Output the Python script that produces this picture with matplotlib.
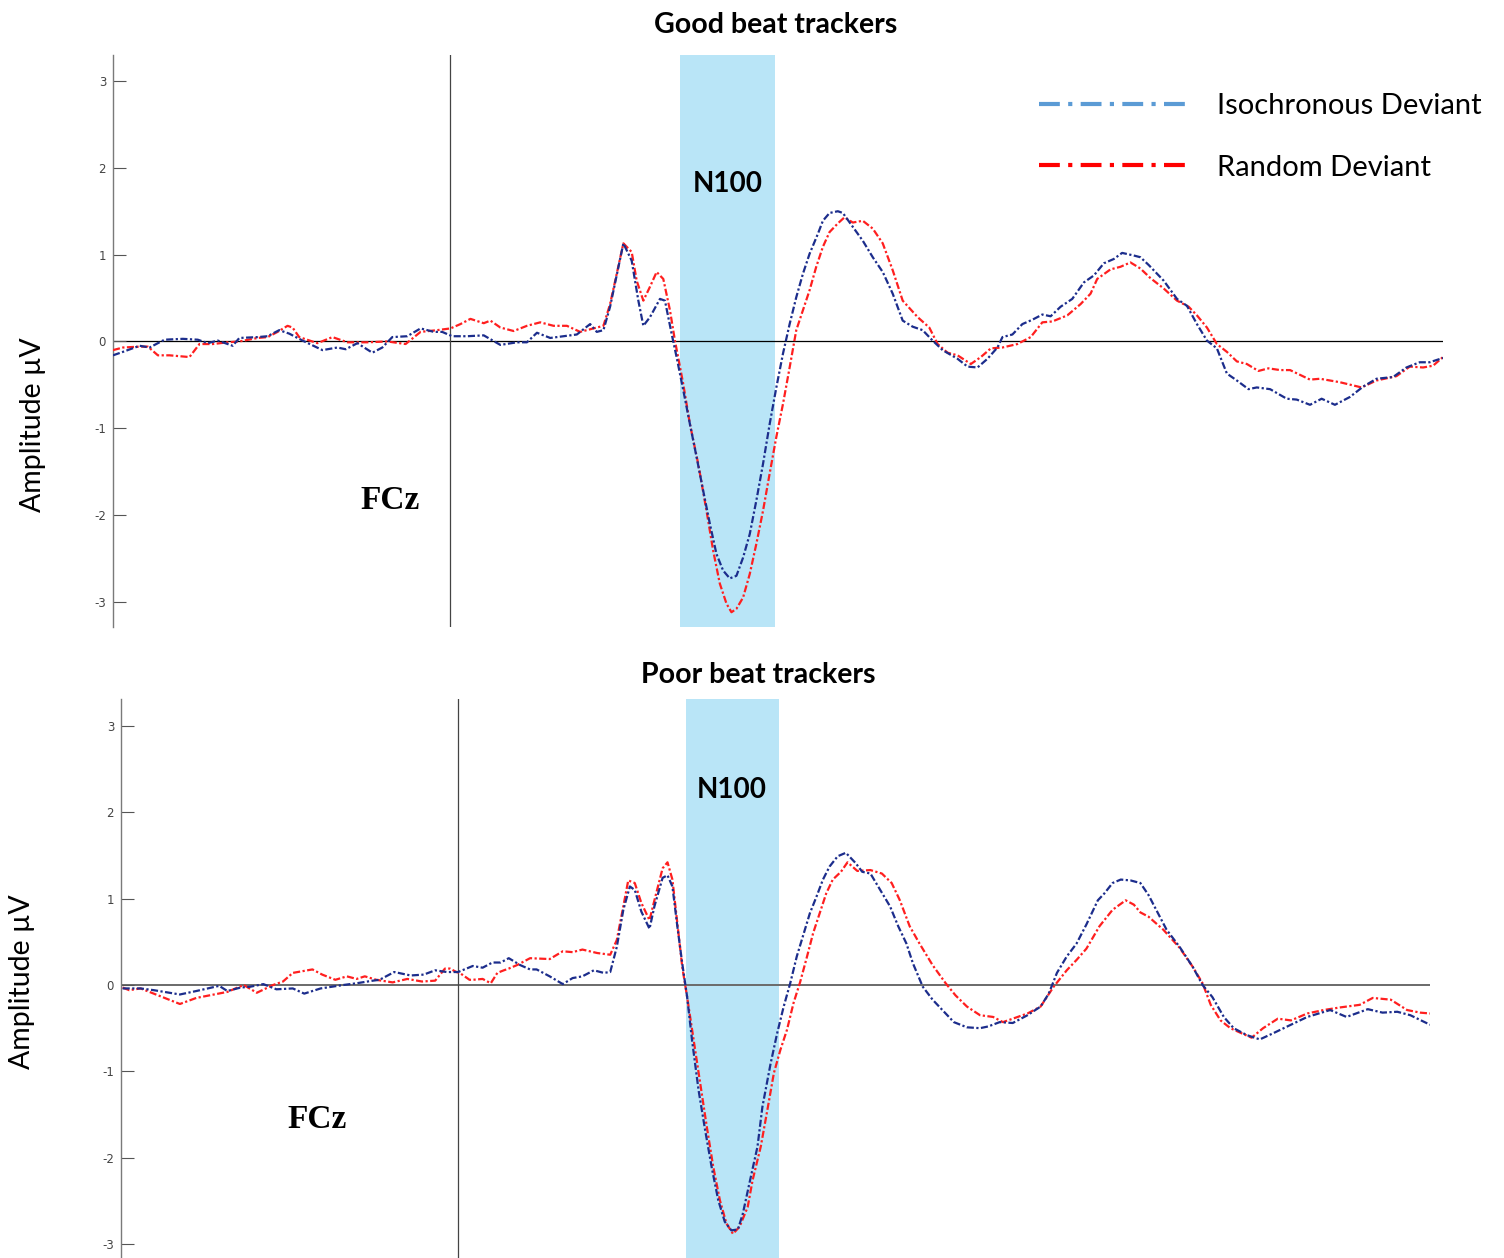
import matplotlib
matplotlib.use("Agg")
import matplotlib.pyplot as plt
from matplotlib.lines import Line2D
import numpy as np

# ERP at FCz, time in ms relative to deviant onset, amplitude in microvolts
good_iso = [(-203, -0.16), (-197, -0.12), (-187, -0.05), (-181, -0.07), (-172, 0.02), (-161, 0.03),
            (-152, 0.02), (-146, -0.02), (-140, 0.01), (-131, -0.05), (-127, 0.04), (-116, 0.05),
            (-110, 0.06), (-103, 0.13), (-97, 0.09), (-89, 0.01), (-77, -0.10), (-68, -0.07),
            (-63, -0.09), (-56, -0.02), (-47, -0.13), (-41, -0.07), (-35, 0.05), (-26, 0.06),
            (-18, 0.15), (-10, 0.11), (-5, 0.11), (1, 0.06), (10, 0.06), (20, 0.07), (30, -0.04),
            (40, -0.01), (46, -0.01), (52, 0.10), (60, 0.04), (68, 0.06), (76, 0.08), (84, 0.20),
            (88, 0.11), (92, 0.13), (96, 0.40), (104, 1.13), (109, 0.93), (113, 0.47), (116, 0.18),
            (120, 0.28), (126, 0.49), (129, 0.47), (133, 0.09), (136, -0.18), (140, -0.56),
            (144, -0.95), (148, -1.33), (152, -1.72), (156, -2.10), (160, -2.45), (164, -2.64),
            (168, -2.73), (172, -2.70), (176, -2.49), (180, -2.22), (184, -1.83), (188, -1.41),
            (192, -0.95), (196, -0.53), (200, -0.14), (204, 0.20), (208, 0.51), (212, 0.78),
            (216, 1.01), (221, 1.24), (224, 1.39), (228, 1.48), (233, 1.50), (236, 1.48),
            (242, 1.32), (248, 1.16), (254, 0.97), (260, 0.80), (266, 0.55), (272, 0.24),
            (278, 0.17), (284, 0.13), (290, 0.01), (296, -0.10), (305, -0.20), (311, -0.29),
            (317, -0.30), (323, -0.20), (329, -0.07), (332, 0.05), (338, 0.08), (344, 0.20),
            (350, 0.25), (356, 0.31), (361, 0.29), (367, 0.40), (374, 0.49), (381, 0.68),
            (387, 0.76), (393, 0.90), (399, 0.95), (404, 1.02), (411, 0.99), (415, 0.97),
            (420, 0.88), (429, 0.70), (437, 0.49), (443, 0.41), (449, 0.20), (455, 0.01),
            (461, -0.08), (467, -0.37), (473, -0.45), (480, -0.55), (485, -0.53), (493, -0.55),
            (503, -0.66), (509, -0.67), (517, -0.73), (524, -0.66), (532, -0.73), (541, -0.64),
            (549, -0.52), (557, -0.43), (567, -0.41), (575, -0.30), (583, -0.24), (589, -0.24),
            (597, -0.19)]

good_rnd = [(-203, -0.10), (-197, -0.07), (-187, -0.06), (-182, -0.06), (-176, -0.16), (-169, -0.16),
            (-157, -0.18), (-151, -0.03), (-143, -0.03), (-134, -0.01), (-127, 0.00), (-116, 0.04),
            (-110, 0.05), (-104, 0.11), (-98, 0.18), (-95, 0.16), (-91, 0.05), (-80, -0.02),
            (-71, 0.05), (-62, -0.01), (-50, -0.01), (-38, 0.00), (-27, -0.03), (-18, 0.11),
            (-8, 0.13), (0, 0.15), (6, 0.20), (12, 0.26), (20, 0.21), (24, 0.24), (30, 0.16),
            (38, 0.12), (46, 0.18), (54, 0.22), (62, 0.18), (70, 0.18), (78, 0.11), (86, 0.15),
            (92, 0.18), (96, 0.43), (100, 0.78), (104, 1.13), (109, 1.03), (112, 0.70), (116, 0.47),
            (120, 0.63), (124, 0.80), (128, 0.72), (132, 0.36), (135, 0.01), (140, -0.49),
            (144, -0.95), (149, -1.41), (154, -1.95), (158, -2.41), (162, -2.79), (166, -3.02),
            (169, -3.12), (172, -3.08), (176, -2.95), (180, -2.68), (184, -2.33), (188, -1.95),
            (192, -1.52), (196, -1.10), (200, -0.72), (204, -0.30), (208, 0.13), (212, 0.36),
            (216, 0.59), (220, 0.86), (224, 1.09), (228, 1.26), (233, 1.36), (237, 1.43),
            (242, 1.37), (248, 1.39), (254, 1.30), (260, 1.13), (266, 0.82), (272, 0.47),
            (281, 0.28), (288, 0.16), (293, -0.03), (299, -0.13), (305, -0.16), (313, -0.26),
            (319, -0.18), (325, -0.08), (332, -0.07), (341, -0.03), (349, 0.05), (356, 0.22),
            (362, 0.23), (371, 0.30), (379, 0.43), (385, 0.55), (389, 0.72), (397, 0.83),
            (403, 0.86), (409, 0.91), (415, 0.84), (421, 0.73), (429, 0.61), (437, 0.47),
            (444, 0.40), (449, 0.30), (455, 0.16), (461, -0.03), (467, -0.12), (473, -0.23),
            (479, -0.26), (486, -0.34), (492, -0.31), (499, -0.33), (505, -0.33), (517, -0.44),
            (523, -0.43), (535, -0.47), (548, -0.53), (557, -0.45), (569, -0.40), (577, -0.29),
            (585, -0.30), (591, -0.28), (597, -0.18)]

poor_iso = [(-205, -0.04), (-194, -0.04), (-186, -0.06), (-170, -0.11), (-160, -0.07), (-146, -0.01),
            (-141, -0.07), (-133, -0.03), (-127, -0.02), (-119, 0.01), (-111, -0.05), (-101, -0.04),
            (-94, -0.10), (-84, -0.04), (-70, 0.00), (-62, 0.02), (-52, 0.05), (-48, 0.06),
            (-39, 0.15), (-29, 0.11), (-21, 0.12), (-14, 0.17), (-7, 0.15), (0, 0.15), (9, 0.22),
            (15, 0.20), (21, 0.26), (26, 0.26), (31, 0.31), (38, 0.23), (44, 0.18), (48, 0.18),
            (56, 0.10), (64, 0.01), (70, 0.08), (76, 0.10), (83, 0.17), (89, 0.14), (93, 0.15),
            (97, 0.44), (101, 0.87), (105, 1.14), (108, 1.10), (112, 0.85), (117, 0.65),
            (120, 0.91), (125, 1.24), (128, 1.27), (131, 1.14), (134, 0.68), (137, 0.25),
            (140, -0.14), (143, -0.64), (147, -1.22), (151, -1.68), (155, -2.11), (159, -2.49),
            (163, -2.74), (167, -2.84), (171, -2.83), (174, -2.65), (178, -2.30), (183, -1.87),
            (186, -1.41), (191, -0.91), (195, -0.56), (199, -0.25), (203, 0.02), (207, 0.33),
            (211, 0.58), (215, 0.83), (219, 1.02), (223, 1.22), (227, 1.37), (232, 1.49),
            (237, 1.53), (243, 1.41), (247, 1.31), (252, 1.29), (258, 1.10), (264, 0.91),
            (269, 0.68), (274, 0.48), (278, 0.25), (284, -0.02), (290, -0.17), (296, -0.29),
            (303, -0.43), (311, -0.49), (319, -0.50), (324, -0.48), (331, -0.43), (339, -0.44),
            (348, -0.35), (356, -0.25), (361, -0.10), (366, 0.14), (372, 0.33), (378, 0.48),
            (384, 0.70), (391, 0.98), (395, 1.06), (400, 1.18), (405, 1.22), (411, 1.21),
            (417, 1.18), (422, 1.04), (433, 0.64), (441, 0.44), (449, 0.21), (455, 0.00),
            (461, -0.14), (468, -0.37), (474, -0.50), (482, -0.58), (490, -0.63), (498, -0.56),
            (509, -0.46), (519, -0.37), (533, -0.29), (543, -0.37), (556, -0.28), (565, -0.32),
            (574, -0.31), (582, -0.35), (594, -0.46)]

poor_rnd = [(-205, -0.03), (-201, -0.06), (-194, -0.04), (-186, -0.10), (-170, -0.22), (-160, -0.15),
            (-152, -0.12), (-141, -0.08), (-131, 0.00), (-123, -0.09), (-113, 0.00), (-107, 0.04),
            (-101, 0.14), (-89, 0.18), (-83, 0.12), (-75, 0.06), (-68, 0.10), (-62, 0.07),
            (-57, 0.10), (-50, 0.06), (-40, 0.03), (-31, 0.07), (-22, 0.04), (-14, 0.05),
            (-8, 0.19), (-5, 0.19), (-1, 0.15), (1, 0.14), (7, 0.06), (9, 0.06), (15, 0.07),
            (20, 0.02), (24, 0.14), (28, 0.17), (31, 0.19), (36, 0.23), (44, 0.31), (56, 0.30),
            (64, 0.39), (70, 0.38), (76, 0.41), (85, 0.37), (93, 0.35), (97, 0.52), (101, 0.91),
            (104, 1.21), (108, 1.18), (112, 0.95), (117, 0.75), (120, 0.98), (125, 1.35),
            (128, 1.42), (131, 1.22), (134, 0.71), (137, 0.21), (140, -0.14), (144, -0.64),
            (148, -1.14), (152, -1.64), (156, -2.11), (160, -2.49), (164, -2.76), (168, -2.88),
            (172, -2.80), (177, -2.57), (180, -2.26), (185, -1.87), (189, -1.45), (193, -1.02),
            (197, -0.75), (201, -0.52), (205, -0.21), (209, 0.03), (213, 0.31), (217, 0.60),
            (221, 0.83), (225, 1.06), (229, 1.22), (234, 1.31), (238, 1.42), (244, 1.32),
            (252, 1.33), (259, 1.29), (265, 1.18), (270, 0.98), (276, 0.68), (282, 0.48),
            (290, 0.23), (298, 0.02), (304, -0.12), (311, -0.25), (319, -0.35), (327, -0.37),
            (333, -0.43), (339, -0.39), (348, -0.33), (356, -0.25), (364, -0.02), (372, 0.17),
            (378, 0.29), (384, 0.42), (392, 0.68), (400, 0.87), (408, 0.98), (413, 0.93),
            (417, 0.84), (422, 0.79), (431, 0.64), (441, 0.43), (449, 0.21), (455, 0.02),
            (460, -0.23), (466, -0.41), (472, -0.50), (479, -0.56), (485, -0.61), (492, -0.50),
            (501, -0.39), (509, -0.41), (519, -0.33), (529, -0.29), (539, -0.26), (551, -0.23),
            (559, -0.15), (570, -0.17), (580, -0.29), (588, -0.32), (594, -0.33)]

panel_titles = ["Good beat trackers", "Poor beat trackers"]
n100_window = [(138, 195), (139, 196)]
yticks = [-3, -2, -1, 0, 1, 2, 3]

ISO_COLOR = "#1c2d8c"
RND_COLOR = "#ff1f1f"
BAND_COLOR = "#b9e5f7"
DASHDOT = (0, (3.2, 1.1, 1.0, 1.1))

W, H = 1504, 1258


def fx(px):
    return px / W


def fy(py):
    return 1 - py / H


fig = plt.figure(figsize=(W / 100, H / 100), dpi=100)

panels = [
    dict(rect=[fx(113), fy(627), fx(1443) - fx(113), fy(55) - fy(627)],
         xlim=(-203, 597), ylim=(-3.29, 3.30), iso=good_iso, rnd=good_rnd,
         zero_color="black", zero_lw=0.9, n100_y=1.81, fcz=(-36, -1.83),
         title_xy=(776, 25), ylabel_xy=(33, 425)),
    dict(rect=[fx(121), 0.0, fx(1430) - fx(121), fy(699)],
         xlim=(-206, 594), ylim=(-3.16, 3.31), iso=poor_iso, rnd=poor_rnd,
         zero_color="#6a6a6a", zero_lw=1.4, n100_y=2.26, fcz=(-86, -1.56),
         title_xy=(758, 675), ylabel_xy=(22, 982)),
]

for i, p in enumerate(panels):
    ax = fig.add_axes(p["rect"])
    ax.set_xlim(*p["xlim"])
    ax.set_ylim(*p["ylim"])

    lo, hi = n100_window[i]
    ax.axvspan(lo, hi, color=BAND_COLOR, lw=0, zorder=0)
    ax.axhline(0, color=p["zero_color"], lw=p["zero_lw"], zorder=1)
    ax.axvline(0, color="#444444", lw=0.9, zorder=1)

    t_iso, v_iso = np.array(p["iso"]).T
    t_rnd, v_rnd = np.array(p["rnd"]).T
    ax.plot(t_rnd, v_rnd, color=RND_COLOR, lw=1.6, ls=DASHDOT, zorder=3)
    ax.plot(t_iso, v_iso, color=ISO_COLOR, lw=1.6, ls=DASHDOT, zorder=4)

    ax.text((lo + hi) / 2, p["n100_y"], "N100", ha="center", va="center",
            fontsize=20, fontweight="bold", family="Lato", zorder=5)
    ax.text(p["fcz"][0], p["fcz"][1], "FCz", ha="center", va="center",
            fontsize=24, fontweight="bold", family="Liberation Serif", zorder=5)

    for side in ["top", "right", "bottom"]:
        ax.spines[side].set_visible(False)
    ax.spines["left"].set_color("#7a7a7a")
    ax.spines["left"].set_linewidth(1.0)
    ax.set_xticks([])
    ax.set_yticks(yticks)
    ax.set_yticklabels([str(v) for v in yticks])
    ax.tick_params(axis="y", direction="in", length=9, width=0.8, color="#555555",
                   labelsize=8.5, labelcolor="#444444", pad=5)
    ax.patch.set_alpha(0)

    fig.text(fx(p["title_xy"][0]), fy(p["title_xy"][1]), panel_titles[i],
             ha="center", va="center", fontsize=20.5, fontweight="bold", family="Lato")
    fig.text(fx(p["ylabel_xy"][0]), fy(p["ylabel_xy"][1]), "Amplitude µV",
             ha="center", va="center", rotation=90, fontsize=20.5, family="Lato")

handles = [
    Line2D([], [], color="#5b9bd5", lw=3, ls=(0, (5, 2, 1, 2))),
    Line2D([], [], color="#ff0000", lw=3, ls=(0, (5, 2, 1, 2))),
]
fig.legend(handles, ["Isochronous Deviant", "Random Deviant"], loc="upper left",
           bbox_to_anchor=(fx(1039), fy(93)), frameon=False,
           prop={"family": "Lato", "size": 21}, handlelength=5.07, handletextpad=1.03,
           labelspacing=1.22, borderpad=0, borderaxespad=0)

fig.savefig("out.png", dpi=100)
